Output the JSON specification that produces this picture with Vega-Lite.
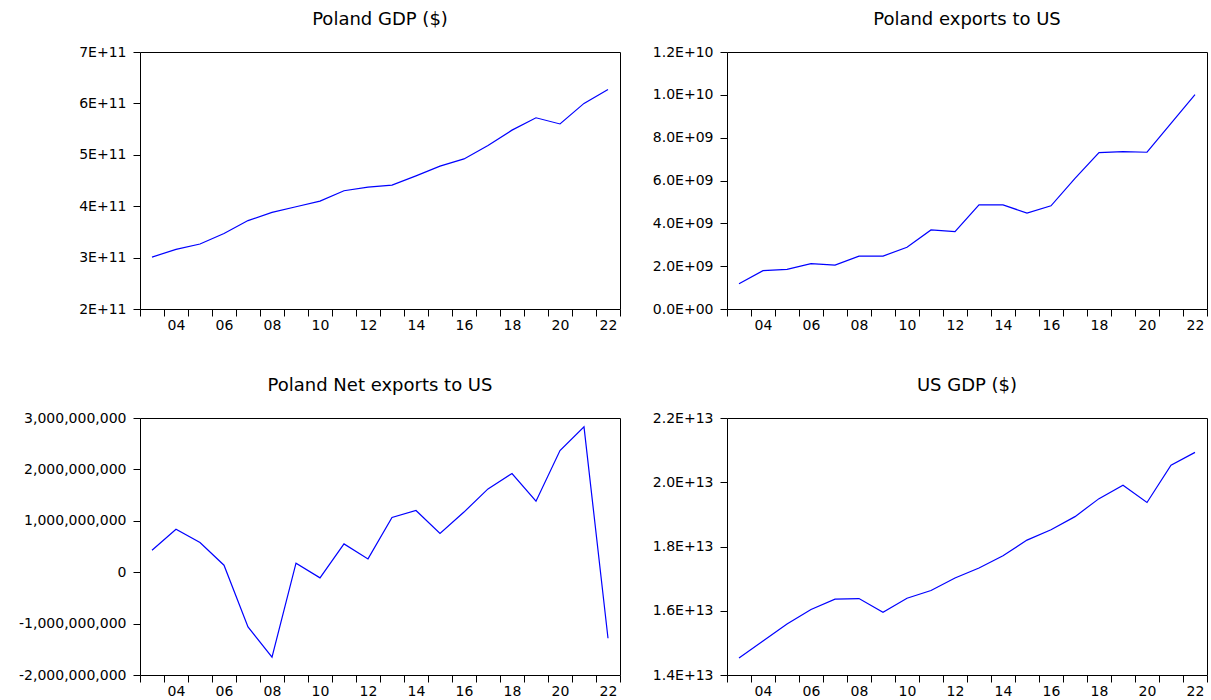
{
  "$schema": "https://vega.github.io/schema/vega-lite/v6.json",
  "background": "white",
  "padding": {"left": 5, "top": 10, "right": 1, "bottom": 1},
  "datasets": {
    "main": [
      {"year": 2003, "pl_gdp": 301000000000, "pl_exp": 1180000000, "pl_net": 428000000, "us_gdp": 14530000000000},
      {"year": 2004, "pl_gdp": 316000000000, "pl_exp": 1790000000, "pl_net": 837000000, "us_gdp": 15060000000000},
      {"year": 2005, "pl_gdp": 326500000000, "pl_exp": 1850000000, "pl_net": 577000000, "us_gdp": 15590000000000},
      {"year": 2006, "pl_gdp": 347000000000, "pl_exp": 2120000000, "pl_net": 136000000, "us_gdp": 16040000000000},
      {"year": 2007, "pl_gdp": 372000000000, "pl_exp": 2050000000, "pl_net": -1064000000, "us_gdp": 16360000000000},
      {"year": 2008, "pl_gdp": 388000000000, "pl_exp": 2470000000, "pl_net": -1654000000, "us_gdp": 16380000000000},
      {"year": 2009, "pl_gdp": 399000000000, "pl_exp": 2470000000, "pl_net": 175000000, "us_gdp": 15950000000000},
      {"year": 2010, "pl_gdp": 410000000000, "pl_exp": 2880000000, "pl_net": -110000000, "us_gdp": 16390000000000},
      {"year": 2011, "pl_gdp": 430000000000, "pl_exp": 3690000000, "pl_net": 551000000, "us_gdp": 16630000000000},
      {"year": 2012, "pl_gdp": 437000000000, "pl_exp": 3610000000, "pl_net": 259000000, "us_gdp": 17020000000000},
      {"year": 2013, "pl_gdp": 441000000000, "pl_exp": 4860000000, "pl_net": 1064000000, "us_gdp": 17330000000000},
      {"year": 2014, "pl_gdp": 459000000000, "pl_exp": 4860000000, "pl_net": 1200000000, "us_gdp": 17710000000000},
      {"year": 2015, "pl_gdp": 478000000000, "pl_exp": 4480000000, "pl_net": 752000000, "us_gdp": 18200000000000},
      {"year": 2016, "pl_gdp": 492000000000, "pl_exp": 4820000000, "pl_net": 1170000000, "us_gdp": 18520000000000},
      {"year": 2017, "pl_gdp": 518000000000, "pl_exp": 6100000000, "pl_net": 1621000000, "us_gdp": 18930000000000},
      {"year": 2018, "pl_gdp": 548000000000, "pl_exp": 7300000000, "pl_net": 1920000000, "us_gdp": 19490000000000},
      {"year": 2019, "pl_gdp": 572000000000, "pl_exp": 7350000000, "pl_net": 1381000000, "us_gdp": 19910000000000},
      {"year": 2020, "pl_gdp": 560000000000, "pl_exp": 7320000000, "pl_net": 2367000000, "us_gdp": 19370000000000},
      {"year": 2021, "pl_gdp": 600000000000, "pl_exp": 8670000000, "pl_net": 2827000000, "us_gdp": 20530000000000},
      {"year": 2022, "pl_gdp": 627000000000, "pl_exp": 10010000000, "pl_net": -1284000000, "us_gdp": 20930000000000}
    ]
  },
  "columns": 2,
  "align": "each",
  "spacing": {"row": 43, "column": 13},
  "concat": [
    {
      "title": "Poland GDP ($)",
      "width": 480, "height": 257,
      "data": {"name": "main"},
      "mark": {"type": "line", "color": "#0000ff", "strokeWidth": 1.2},
      "encoding": {
        "x": {"field": "year", "type": "quantitative", "title": null,
          "scale": {"domain": [2002.5, 2022.5], "nice": false, "zero": false},
          "axis": {"values": [2002.5,2003.5,2004.5,2005.5,2006.5,2007.5,2008.5,2009.5,2010.5,2011.5,2012.5,2013.5,2014.5,2015.5,2016.5,2017.5,2018.5,2019.5,2020.5,2021.5,2022.5],
            "labelExpr": "(datum.value + 0.5) % 2 == 0 && datum.value < 2022 ? ((datum.value + 0.5 < 2010 ? '0' : '') + (datum.value + 0.5 - 2000)) : ''",
            "labelOffset": 12}},
        "y": {"field": "pl_gdp", "type": "quantitative", "title": null,
          "scale": {"domain": [200000000000, 700000000000], "nice": false, "zero": false},
          "axis": {"values": [200000000000, 300000000000, 400000000000, 500000000000, 600000000000, 700000000000],
            "labelExpr": "round(datum.value / 1e11) + 'E+11'",
            "minExtent": 134, "maxExtent": 134}}
      }
    },
    {
      "title": "Poland exports to US",
      "width": 480, "height": 257,
      "data": {"name": "main"},
      "mark": {"type": "line", "color": "#0000ff", "strokeWidth": 1.2},
      "encoding": {
        "x": {"field": "year", "type": "quantitative", "title": null,
          "scale": {"domain": [2002.5, 2022.5], "nice": false, "zero": false},
          "axis": {"values": [2002.5,2003.5,2004.5,2005.5,2006.5,2007.5,2008.5,2009.5,2010.5,2011.5,2012.5,2013.5,2014.5,2015.5,2016.5,2017.5,2018.5,2019.5,2020.5,2021.5,2022.5],
            "labelExpr": "(datum.value + 0.5) % 2 == 0 && datum.value < 2022 ? ((datum.value + 0.5 < 2010 ? '0' : '') + (datum.value + 0.5 - 2000)) : ''",
            "labelOffset": 12}},
        "y": {"field": "pl_exp", "type": "quantitative", "title": null,
          "scale": {"domain": [0, 12000000000], "nice": false},
          "axis": {"values": [0, 2000000000, 4000000000, 6000000000, 8000000000, 10000000000, 12000000000],
            "labelExpr": "datum.value == 0 ? '0.0E+00' : datum.value < 1e10 ? format(datum.value / 1e9, '.1f') + 'E+09' : format(datum.value / 1e10, '.1f') + 'E+10'",
            "minExtent": 80, "maxExtent": 80}}
      }
    },
    {
      "title": "Poland Net exports to US",
      "width": 480, "height": 257,
      "data": {"name": "main"},
      "mark": {"type": "line", "color": "#0000ff", "strokeWidth": 1.2},
      "encoding": {
        "x": {"field": "year", "type": "quantitative", "title": null,
          "scale": {"domain": [2002.5, 2022.5], "nice": false, "zero": false},
          "axis": {"values": [2002.5,2003.5,2004.5,2005.5,2006.5,2007.5,2008.5,2009.5,2010.5,2011.5,2012.5,2013.5,2014.5,2015.5,2016.5,2017.5,2018.5,2019.5,2020.5,2021.5,2022.5],
            "labelExpr": "(datum.value + 0.5) % 2 == 0 && datum.value < 2022 ? ((datum.value + 0.5 < 2010 ? '0' : '') + (datum.value + 0.5 - 2000)) : ''",
            "labelOffset": 12}},
        "y": {"field": "pl_net", "type": "quantitative", "title": null,
          "scale": {"domain": [-2000000000, 3000000000], "nice": false, "zero": false},
          "axis": {"values": [-2000000000, -1000000000, 0, 1000000000, 2000000000, 3000000000],
            "labelExpr": "(datum.value < 0 ? '-' : '') + format(abs(datum.value), ',')",
            "minExtent": 134, "maxExtent": 134}}
      }
    },
    {
      "title": "US GDP ($)",
      "width": 480, "height": 257,
      "data": {"name": "main"},
      "mark": {"type": "line", "color": "#0000ff", "strokeWidth": 1.2},
      "encoding": {
        "x": {"field": "year", "type": "quantitative", "title": null,
          "scale": {"domain": [2002.5, 2022.5], "nice": false, "zero": false},
          "axis": {"values": [2002.5,2003.5,2004.5,2005.5,2006.5,2007.5,2008.5,2009.5,2010.5,2011.5,2012.5,2013.5,2014.5,2015.5,2016.5,2017.5,2018.5,2019.5,2020.5,2021.5,2022.5],
            "labelExpr": "(datum.value + 0.5) % 2 == 0 && datum.value < 2022 ? ((datum.value + 0.5 < 2010 ? '0' : '') + (datum.value + 0.5 - 2000)) : ''",
            "labelOffset": 12}},
        "y": {"field": "us_gdp", "type": "quantitative", "title": null,
          "scale": {"domain": [14000000000000, 22000000000000], "nice": false, "zero": false},
          "axis": {"values": [14000000000000, 16000000000000, 18000000000000, 20000000000000, 22000000000000],
            "labelExpr": "format(datum.value / 1e13, '.1f') + 'E+13'",
            "minExtent": 80, "maxExtent": 80}}
      }
    }
  ],
  "config": {
    "view": {"stroke": "black", "strokeWidth": 1},
    "title": {"font": "DejaVu Sans", "fontSize": 18, "fontWeight": "normal", "color": "black", "anchor": "middle", "frame": "group", "offset": 16},
    "axis": {"labelFont": "DejaVu Sans", "labelFontSize": 14, "labelColor": "black", "tickColor": "black", "tickSize": 7, "tickWidth": 1, "domain": false, "grid": false, "labelOverlap": false, "labelFlush": false, "labelBound": false},
    "axisX": {"labelPadding": 2},
    "axisY": {"labelPadding": 7}
  }
}
